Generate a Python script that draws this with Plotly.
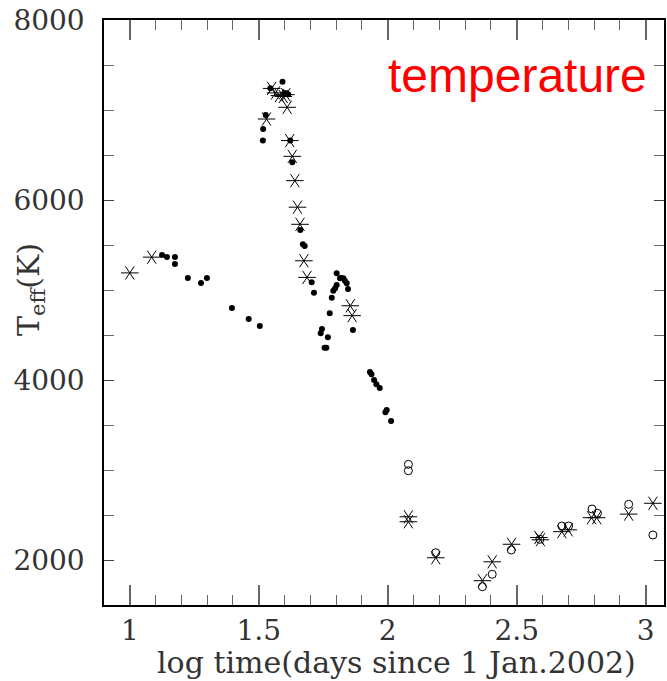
import plotly.graph_objects as go

# --- data (log time, Teff) ---
dot_x = [1.125, 1.144, 1.175, 1.175, 1.225, 1.276, 1.299, 1.396, 1.461, 1.504,
         1.592, 1.545, 1.614, 1.601, 1.527, 1.517, 1.516, 1.622, 1.630, 1.661,
         1.671, 1.678, 1.705, 1.714, 1.802, 1.815, 1.820, 1.828, 1.834, 1.841,
         1.846, 1.802, 1.796, 1.789, 1.783, 1.775, 1.865, 1.745, 1.740, 1.768,
         1.755, 1.762, 1.931, 1.937, 1.947, 1.956, 1.969, 1.996, 1.991, 2.013]
dot_y = [5390, 5366, 5366, 5288, 5133, 5077, 5133, 4800, 4678, 4600,
         7314, 7241, 7174, 7188, 6944, 6789, 6661, 6661, 6419, 5666,
         5507, 5489, 5085, 4970, 5185, 5130, 5133, 5130, 5103, 5074,
         5011, 5055, 5019, 4992, 4914, 4741, 4555, 4566, 4519, 4474,
         4359, 4359, 4089, 4063, 4000, 3952, 3911, 3667, 3641, 3544]

star_x = [1.000, 1.085, 1.550, 1.565, 1.580, 1.595, 1.605, 1.610, 1.530, 1.620,
          1.630, 1.640, 1.650, 1.660, 1.675, 1.687, 1.855, 1.862, 2.080, 2.080,
          2.186, 2.367, 2.405, 2.480, 2.586, 2.592, 2.675, 2.700, 2.790, 2.810,
          2.934, 3.028]
star_y = [5190, 5365, 7240, 7190, 7160, 7150, 7170, 7030, 6900, 6660,
          6485, 6215, 5920, 5730, 5325, 5140, 4825, 4715, 2480, 2425,
          2025, 1770, 1980, 2175, 2250, 2225, 2315, 2335, 2470, 2470,
          2510, 2630]

circ_x = [2.080, 2.080, 2.186, 2.367, 2.405, 2.479, 2.590, 2.675, 2.701, 2.792,
          2.813, 2.934, 3.028]
circ_y = [3063, 2992, 2081, 1703, 1841, 2111, 2230, 2378, 2378, 2567,
          2519, 2619, 2278]

x_tickvals = [1, 1.5, 2, 2.5, 3]
x_ticktext = ["1", "1.5", "2", "2.5", "3"]
y_tickvals = [2000, 4000, 6000, 8000]
y_ticktext = ["2000", "4000", "6000", "8000"]

fig = go.Figure()

fig.add_trace(go.Scatter(x=dot_x, y=dot_y, mode="markers",
                         marker=dict(symbol="circle", size=6, color="black",
                                     line=dict(width=0))))
for sym in ["y-left-open", "y-right-open"]:
    fig.add_trace(go.Scatter(x=star_x, y=star_y, mode="markers",
                             marker=dict(symbol=sym, size=11, color="black",
                                         line=dict(width=1, color="black"))))
fig.add_trace(go.Scatter(x=circ_x, y=circ_y, mode="markers",
                         marker=dict(symbol="circle-open", size=8, color="black",
                                     line=dict(width=1, color="black"))))

tickfont = dict(family="DejaVu Serif", size=28, color="#333333")
titlefont = dict(family="DejaVu Serif", size=30, color="#333333")

fig.update_layout(
    width=667, height=681,
    margin=dict(l=104, r=3, t=20, b=76),
    paper_bgcolor="white", plot_bgcolor="white",
    showlegend=False,
    xaxis=dict(
        range=[0.9, 3.071], tickmode="array", tickvals=x_tickvals, ticktext=x_ticktext,
        ticks="inside", ticklen=20, tickwidth=1.5, tickcolor="#666666",
        minor=dict(dtick=0.1, tick0=1, ticks="inside", ticklen=10, tickwidth=1, tickcolor="#666666"),
        showline=True, linecolor="black", linewidth=1.5, mirror="ticks",
        showgrid=False, zeroline=False, tickfont=tickfont, automargin=False,
        ticklabelstandoff=0,
    ),
    yaxis=dict(
        range=[1500, 8000], tickmode="array", tickvals=y_tickvals, ticktext=y_ticktext,
        ticks="inside", ticklen=10, tickwidth=1.2, tickcolor="#444444",
        minor=dict(dtick=500, tick0=0, ticks="inside", ticklen=10, tickwidth=1, tickcolor="#666666"),
        showline=True, linecolor="black", linewidth=1.5, mirror="ticks",
        showgrid=False, zeroline=False, tickfont=tickfont, ticklabelstandoff=12,
        automargin=False,
    ),
    annotations=[
        dict(text="temperature", xref="paper", yref="paper",
             x=0.973, y=0.905, xanchor="right", yanchor="middle", showarrow=False,
             font=dict(family="Liberation Sans", size=48, color="#ff0000")),
        dict(text="log time(days since 1 Jan.2002)", xref="paper", yref="paper",
             x=(396 - 104) / 560, y=-(662 - 605) / 585, xanchor="center", yanchor="middle",
             showarrow=False, font=titlefont),
        dict(text="T<sub>eff</sub>(K)", xref="paper", yref="paper", textangle=-90,
             x=(30 - 104) / 560, y=1 - (290 - 20) / 585, xanchor="center", yanchor="middle",
             showarrow=False, font=titlefont),
    ],
)

fig.write_html("out.html", post_script="document.body.style.margin='0';",
               config={"displayModeBar": False})
